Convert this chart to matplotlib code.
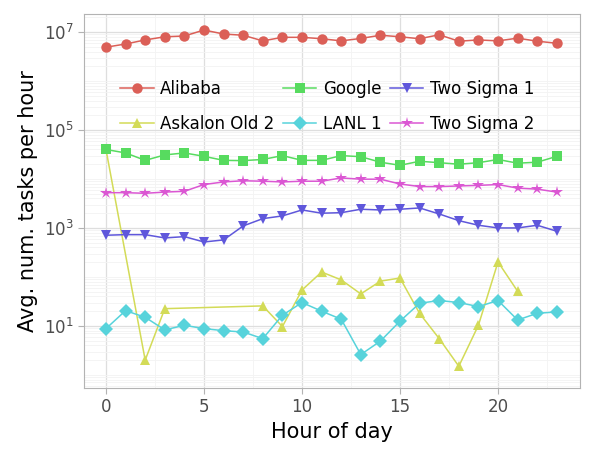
import matplotlib
matplotlib.use("Agg")
import matplotlib.pyplot as plt
from matplotlib.ticker import FixedLocator, LogFormatterMathtext, NullFormatter

hours = list(range(24))

alibaba = [4.9e6, 5.7e6, 6.9e6, 8.0e6, 8.3e6, 1.1e7, 9.1e6, 8.6e6, 6.6e6, 7.8e6,
           7.8e6, 7.3e6, 6.6e6, 7.4e6, 8.6e6, 8.0e6, 7.3e6, 8.8e6, 6.5e6, 6.9e6,
           6.6e6, 7.5e6, 6.5e6, 5.9e6]

askalon_hours = [0, 2, 3, 8, 9, 10, 11, 12, 13, 14, 15, 16, 17, 18, 19, 20, 21]
askalon = [4.0e4, 2.0, 22.5, 25.6, 9.7, 54, 126, 87, 45, 82, 95, 18, 5.5, 1.5,
           10.3, 202, 51]

google = [4.0e4, 3.4e4, 2.4e4, 3.1e4, 3.4e4, 2.9e4, 2.4e4, 2.37e4, 2.5e4, 3.0e4,
          2.4e4, 2.4e4, 3.0e4, 2.85e4, 2.2e4, 1.9e4, 2.3e4, 2.15e4, 2.0e4, 2.15e4,
          2.5e4, 2.1e4, 2.2e4, 2.9e4]

lanl = [8.8, 20.5, 15, 8.3, 10.3, 8.8, 8.0, 7.5, 5.5, 16.5, 30, 20, 13.7, 2.6,
        4.9, 12.5, 29, 33, 30, 24.8, 33, 13.2, 18.1, 19.3]

two_sigma_1 = [710, 730, 730, 625, 665, 517, 570, 1100, 1550, 1760, 2330, 2000,
               2050, 2410, 2330, 2410, 2560, 1930, 1410, 1135, 1000, 1000, 1135, 857]

two_sigma_2 = [5250, 5250, 5100, 5400, 5600, 7700, 8700, 9200, 9000, 8700, 9000,
               9000, 10500, 9900, 9900, 7900, 7000, 7000, 7200, 7400, 7700, 6500,
               6200, 5400]

series = [
    ("Alibaba", hours, alibaba, "#db5f57", "o", 7.5),
    ("Askalon Old 2", askalon_hours, askalon, "#d3db57", "^", 7.5),
    ("Google", hours, google, "#57db5f", "s", 7.5),
    ("LANL 1", hours, lanl, "#57d3db", "D", 7),
    ("Two Sigma 1", hours, two_sigma_1, "#5f57db", "v", 7.5),
    ("Two Sigma 2", hours, two_sigma_2, "#db57d3", "*", 9),
]

fig = plt.figure(figsize=(5.93, 4.53), dpi=100)
ax = fig.add_axes([0.1417, 0.1435, 0.978 - 0.1417, 0.969 - 0.1435])

for name, x, y, color, marker, ms in series:
    ax.plot(x, y, color=color, marker=marker, markersize=ms, linewidth=1.1,
            label=name, markeredgewidth=0)

ax.set_yscale("log")
ax.set_ylim(0.54, 2.33e7)
ax.set_xlim(-1.12, 24.18)

ax.yaxis.set_major_locator(FixedLocator([1e1, 1e3, 1e5, 1e7]))
ax.yaxis.set_major_formatter(LogFormatterMathtext())
minor = [k * 10.0 ** n for n in range(-1, 8) for k in range(1, 10)]
minor = [m for m in minor if m not in (1e1, 1e3, 1e5, 1e7)]
ax.yaxis.set_minor_locator(FixedLocator(minor))
ax.yaxis.set_minor_formatter(NullFormatter())
ax.set_xticks([0, 5, 10, 15, 20])
ax.set_xticks([2.5, 7.5, 12.5, 17.5, 22.5], minor=True)

ax.grid(True, which="major", color="#dedede", linewidth=0.9)
ax.grid(True, which="minor", color="#f3f3f3", linewidth=0.6)
ax.set_axisbelow(True)

for s in ax.spines.values():
    s.set_color("#b3b3b3")
ax.tick_params(which="major", colors="#b3b3b3", labelcolor="#4d4d4d",
               labelsize=12, length=4)
ax.tick_params(which="minor", length=0)

ax.set_xlabel("Hour of day", fontsize=15)
ax.set_ylabel("Avg. num. tasks per hour", fontsize=15)

ax.legend(ncol=3, frameon=False, fontsize=12, loc="upper left",
          bbox_to_anchor=(0.043, 0.865), handlelength=2.0, columnspacing=0.5,
          handletextpad=0.4, labelspacing=1.05)

fig.savefig("out.png", dpi=100)
